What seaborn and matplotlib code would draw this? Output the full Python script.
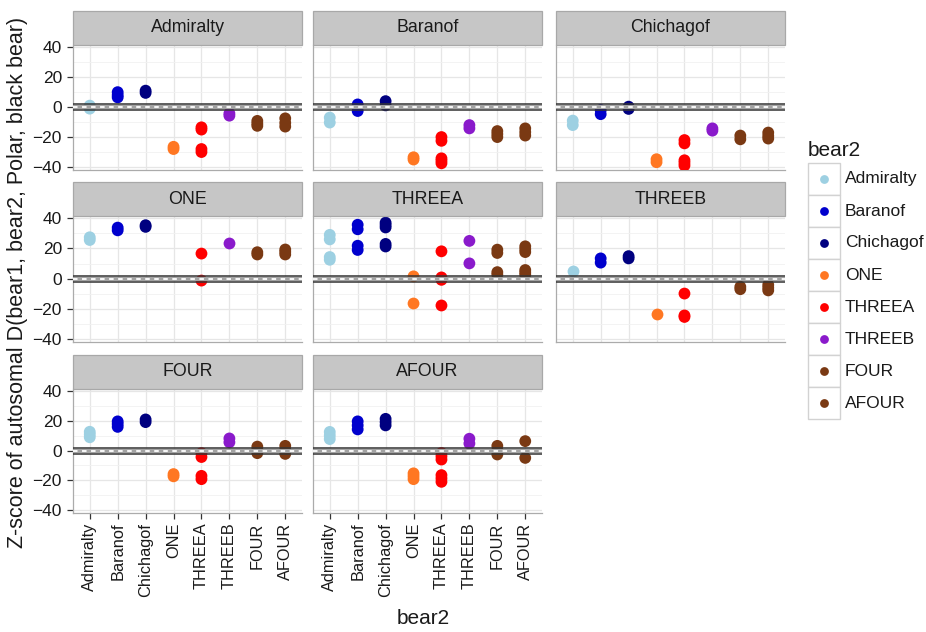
import pandas as pd
import seaborn as sns
import matplotlib.pyplot as plt
from matplotlib.patches import Rectangle

# Population labels (x categories, colours and facet panels share this order)
islands = ["Admiralty", "Baranof", "Chichagof", "ONE", "THREEA", "THREEB", "FOUR", "AFOUR"]
island_colors = ["#9DD0E2", "#0000CD", "#000080", "#FF7722", "#FF0000",
                 "#8A1ACB", "#7A3913", "#7A3913"]
y_ticks = [-40, -20, 0, 20, 40]

# Z-scores per bear1 panel; each inner list holds the values for one bear2 population
z_admiralty = [
    [-1, 1], [6.5, 8, 10], [9.5, 11], [-28, -26.5],
    [-15, -13.5, -30, -28], [-5.7, -4.2], [-12.5, -11, -9.2], [-13, -10.5, -7.5],
]
z_baranof = [
    [-10.3, -7], [-2.6, 0, 1.8], [1.2, 4], [-35, -33.5],
    [-22.5, -20, -37.5, -35.8, -34.2], [-14.2, -12], [-20, -18, -16], [-19, -16.7, -14.2],
]
z_chichagof = [
    [-12, -9], [-4.7, -2], [-1.2, 0.3], [-36.8, -34.8],
    [-24.2, -22, -39, -37.2, -35.5], [-15.7, -14.2], [-21.5, -19], [-21, -19.2, -17],
]
z_one = [
    [25.6, 27.4], [32, 33.8], [34.3, 35.4], [],
    [16.6, -1.3], [23.9], [16, 17.5], [16, 17.7, 19.3],
]
z_threea = [
    [26, 29, 12.5, 14.3], [32.7, 35.7, 19, 21.8], [33.9, 35.5, 37.1, 21.3, 23], [1.5, -16.5],
    [18.1, -0.8, 0.8, -17.8], [25, 10.1], [17, 19.2, 2.6, 4.3], [17.6, 19.5, 21.4, 2.5, 4.1, 5.7],
]
z_threeb = [
    [5.2], [10.6, 13.4], [13.4, 14.9], [-23.4],
    [-9.9, -25.4, -24.4], [], [-7, -5.4], [-7.8, -6, -4.1],
]
z_four = [
    [9, 10.9, 12.7], [16, 17.9, 19.7], [19.2, 21], [-17.3, -15.8],
    [-4.3, -1.7, -19.2, -17], [5.6, 8.2], [-1.7, 0.5, 2.7], [-2.2, 0.5, 3.2],
]
z_afour = [
    [7.8, 10.2, 12.6], [14.3, 17, 19.7], [17, 19.2, 21.4], [-19.2, -17.2, -15.3],
    [-6, -3.8, -1.6, -21, -18.7, -16.5], [4.8, 8], [-2.6, 0.3, 3.2], [6.4, -4.9],
]

panel_values = {
    "Admiralty": z_admiralty, "Baranof": z_baranof, "Chichagof": z_chichagof,
    "ONE": z_one, "THREEA": z_threea, "THREEB": z_threeb,
    "FOUR": z_four, "AFOUR": z_afour,
}

records = []
for bear1, groups in panel_values.items():
    for bear2, zs in zip(islands, groups):
        for z in zs:
            records.append({"bear1": bear1, "bear2": bear2, "z": z})
df = pd.DataFrame(records)

sns.set_theme(style="white")
plt.rcParams["font.family"] = ["Liberation Sans", "DejaVu Sans"]

palette = dict(zip(islands, island_colors))
g = sns.catplot(
    data=df, x="bear2", y="z", hue="bear2", col="bear1", col_wrap=3,
    col_order=islands, order=islands, hue_order=islands, palette=palette,
    kind="strip", jitter=False, size=8.5, linewidth=0, legend=False,
    height=2, aspect=1.2,
)
fig = g.figure
fig.set_size_inches(9.26, 6.32)
fig.set_dpi(100)

W, H = 926, 632
lefts = [73, 313, 556]
pw = 229
tops = [45, 216, 389]
heights = [125, 126, 124]
strip_h = 34
text_col = "#1A1A1A"

for i, name in enumerate(islands):
    ax = g.axes_dict[name]
    r, c = divmod(i, 3)
    ph = heights[r]
    ax.set_position([lefts[c] / W, 1 - (tops[r] + ph) / H, pw / W, ph / H])
    ax.set_title("")
    ax.set_xlabel("")
    ax.set_ylabel("")
    ax.set_xlim(-0.6, 7.6)
    ax.set_ylim(-42, 41.5)

    # grid like a black-and-white ggplot theme
    ax.set_yticks(y_ticks)
    ax.set_yticks([-30, -10, 10, 30], minor=True)
    ax.set_xticks(range(len(islands)))
    ax.grid(which="major", color="#E6E6E6", lw=0.9)
    ax.grid(which="minor", axis="y", color="#F1F1F1", lw=0.6)
    ax.set_axisbelow(True)
    for sp in ax.spines.values():
        sp.set_color("#ABABAB")
        sp.set_linewidth(0.9)

    # reference band at |z| = 2 with dashed zero line
    ax.axhline(0, color="#A3A3A3", lw=3.0, zorder=3)
    ax.axhline(0, color="white", lw=1.3, dashes=(2.5, 2.5), zorder=3.1)
    ax.axhline(2, color="#333333", lw=1.1, zorder=4)
    ax.axhline(-2, color="#333333", lw=1.1, zorder=4)

    # facet strip
    ax.add_patch(Rectangle((0, 1), 1, strip_h / ph, transform=ax.transAxes,
                           facecolor="#C6C6C6", edgecolor="#A8A8A8", lw=0.9,
                           clip_on=False, zorder=5))
    ax.text(0.5, 1 + strip_h / 2 / ph, name, transform=ax.transAxes,
            ha="center", va="center", fontsize=12.8, color=text_col, zorder=6)

    show_y = c == 0
    show_x = name in ("FOUR", "AFOUR")
    ax.tick_params(axis="y", which="major", left=show_y, labelleft=show_y,
                   length=4, width=0.9, color="#333333", labelsize=12.5,
                   labelcolor=text_col, pad=4)
    ax.tick_params(axis="y", which="minor", left=False)
    ax.tick_params(axis="x", bottom=show_x, labelbottom=show_x,
                   length=4, width=0.9, color="#333333", labelsize=11.8,
                   labelcolor=text_col, pad=3)
    if show_x:
        ax.set_xticklabels(islands, rotation=90)
        for lab in ax.get_xticklabels():
            lab.set_visible(True)
    if show_y:
        for lab in ax.get_yticklabels():
            lab.set_visible(True)

fig.text(18 / W, 1 - 282 / H,
         "Z-score of autosomal D(bear1, bear2, Polar, black bear)",
         rotation=90, ha="center", va="center", fontsize=15.5, color=text_col)
fig.text(423 / W, 1 - 619 / H, "bear2", ha="center", va="center",
         fontsize=15, color=text_col)

# legend drawn in pixel coordinates
lax = fig.add_axes([0, 0, 1, 1], facecolor="none")
lax.set_xlim(0, W)
lax.set_ylim(H, 0)
lax.axis("off")
lax.text(808, 150, "bear2", ha="left", va="center", fontsize=15, color=text_col)
key = 32
for k, (lab, col) in enumerate(zip(islands, island_colors)):
    y0 = 163 + key * k
    lax.add_patch(Rectangle((808, y0), key, key, facecolor="white",
                            edgecolor="#D2D2D2", lw=1.0))
    lax.scatter([824], [y0 + key / 2], s=40, color=col, linewidths=0)
    lax.text(845, y0 + key / 2, lab, ha="left", va="center", fontsize=12.5,
             color=text_col)

fig.savefig("out.png", dpi=100)
